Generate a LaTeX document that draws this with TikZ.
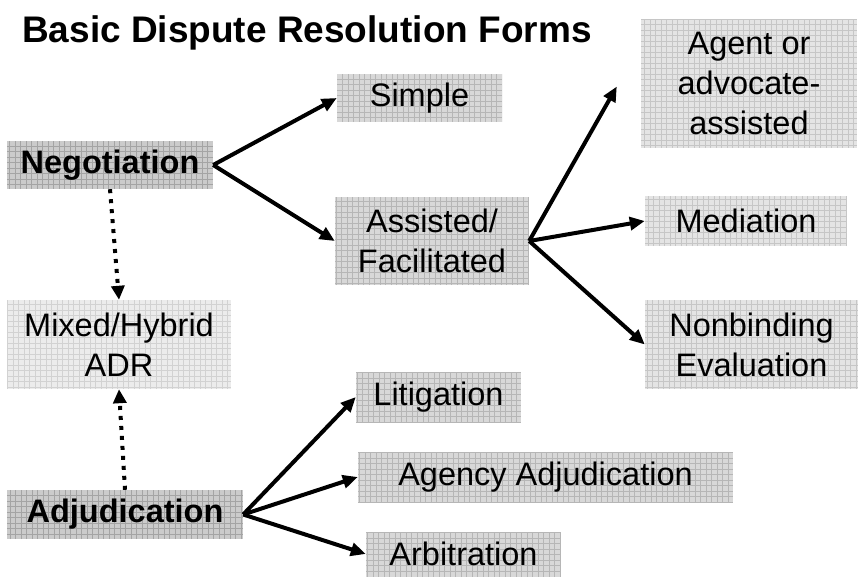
\documentclass[tikz,border=0pt]{standalone}
\usepackage{fontspec}
\setmainfont{Liberation Sans}
\usetikzlibrary{arrows.meta,calc}
\definecolor{darkfill}{HTML}{CBCBCB}
\definecolor{darkgrid}{HTML}{A4A4A4}
\definecolor{midfill}{HTML}{D8D8D8}
\definecolor{midgrid}{HTML}{B6B6B6}
\definecolor{litefill}{HTML}{E4E4E4}
\definecolor{litegrid}{HTML}{C6C6C6}
\definecolor{palefill}{HTML}{ECECEC}
\definecolor{palegrid}{HTML}{D2D2D2}
\begin{document}
\begin{tikzpicture}[x=1bp,y=-1bp,
  box/.style 2 args={inner sep=0pt, align=center,
    font=\fontsize{32.5bp}{40bp}\selectfont, fill=#1,
    path picture={\draw[#2, line width=0.6bp]
      (path picture bounding box.south west) grid[step=5.5bp]
      (path picture bounding box.north east);}},
  darkbox/.style={box={darkfill}{darkgrid}, font=\fontsize{32.5bp}{40bp}\selectfont\bfseries},
  midbox/.style={box={midfill}{midgrid}},
  litebox/.style={box={litefill}{litegrid}},
  palebox/.style={box={palefill}{palegrid}},
  arr/.style={line width=4bp, -{Triangle[length=15bp,width=13bp]}},
  dotarr/.style={line width=4bp, dash pattern=on 4bp off 6bp,
    -{Triangle[length=14bp,width=13bp]}}
]
\useasboundingbox (0,0) rectangle (860,579);

\node[anchor=base west, inner sep=0pt, font=\fontsize{37bp}{44bp}\selectfont\bfseries]
  (title) at (22,43) {Basic Dispute Resolution Forms};

\node[darkbox, minimum width=206bp, minimum height=48bp] (neg) at (110,165) {Negotiation};
\node[darkbox, minimum width=236bp, minimum height=49bp] (adj) at (125,514.5) {Adjudication};
\node[palebox, minimum width=224bp, minimum height=89bp] (mixed) at (119,344.5) {Mixed/Hybrid\\ADR};

\node[midbox, minimum width=165bp, minimum height=48bp] (simple) at (419.5,98) {Simple};
\node[midbox, minimum width=194bp, minimum height=88bp] (assist) at (432,241) {Assisted/\\Facilitated};

\node[litebox, minimum width=216bp, minimum height=129bp] (agent) at (749,83.5) {Agent or\\advocate-\\assisted};
\node[litebox, minimum width=202bp, minimum height=50bp] (med) at (746,221) {Mediation};
\node[litebox, minimum width=213bp, minimum height=89bp] (nonb) at (751.5,344.5) {Nonbinding\\Evaluation};

\node[midbox, minimum width=165bp, minimum height=50bp] (litig) at (438.5,397) {Litigation};
\node[midbox, minimum width=375bp, minimum height=50bp] (agency) at (545.5,477) {Agency Adjudication};
\node[midbox, minimum width=195bp, minimum height=45bp] (arbit) at (463.5,554) {Arbitration};

\coordinate (agtip) at ($(agent.west)+(-24,3)$);

\draw[arr] (neg.east) -- (simple.west);
\draw[arr] (neg.east) -- (assist.west);
\draw[arr] (assist.east) -- (agtip);
\draw[arr] (assist.east) -- (med.west);
\draw[arr] (assist.east) -- (nonb.west);
\draw[arr] (adj.east) -- (litig.west);
\draw[arr] (adj.east) -- (agency.west);
\draw[arr] (adj.east) -- (arbit.west);

\draw[dotarr] (neg.south) -- (mixed.north);
\draw[dotarr] (adj.north) -- (mixed.south);
\end{tikzpicture}
\end{document}
